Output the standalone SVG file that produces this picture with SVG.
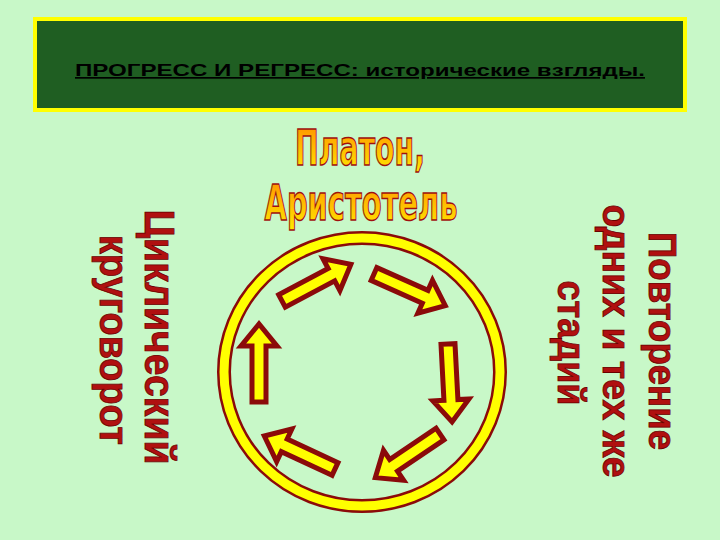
<svg xmlns="http://www.w3.org/2000/svg" width="720" height="540" viewBox="0 0 720 540">
<defs>
<linearGradient id="g" x1="0" y1="0" x2="0" y2="1"><stop offset="0" stop-color="#ff8a00"/><stop offset="1" stop-color="#ffee00"/></linearGradient>
<style>
.ar{fill:#ffff00;stroke:#8b0a0a;stroke-width:5;stroke-linejoin:miter}
.v{font-family:"Liberation Sans",Arial,sans-serif;font-weight:bold;fill:#b01010;stroke:#6a0000;stroke-width:0.8;text-anchor:middle}
.t{font-family:"DejaVu Sans",sans-serif;font-weight:bold;font-size:50px;fill:url(#g);stroke:#a01010;stroke-width:1.5;text-anchor:middle}
</style>
</defs>
<rect width="720" height="540" fill="#c8f8c8"/>
<g id="header">
<rect x="35" y="19" width="650" height="91" fill="#1f5e22" stroke="#ffff00" stroke-width="4"/>
<text x="75" y="76" font-family="Liberation Sans,Arial,sans-serif" font-weight="bold" font-size="17" text-decoration="underline" fill="#000" textLength="570" lengthAdjust="spacingAndGlyphs">ПРОГРЕСС И РЕГРЕСС: исторические взгляды.</text>
</g>
<g id="title">
<text class="t" x="360" y="165" textLength="130" lengthAdjust="spacingAndGlyphs">Платон,</text>
<text class="t" x="361" y="220" textLength="193" lengthAdjust="spacingAndGlyphs">Аристотель</text>
</g>
<g id="left-label">
<text class="v" font-size="42" transform="translate(145,337) rotate(90)" textLength="255" lengthAdjust="spacingAndGlyphs">Циклический</text>
<text class="v" font-size="40" transform="translate(100,340) rotate(90)" textLength="210" lengthAdjust="spacingAndGlyphs">круговорот</text>
</g>
<g id="right-label">
<text class="v" font-size="38" transform="translate(649,341) rotate(90)" textLength="218" lengthAdjust="spacingAndGlyphs">Повторение</text>
<text class="v" font-size="38" transform="translate(603,341) rotate(90)" textLength="273" lengthAdjust="spacingAndGlyphs">одних и тех же</text>
<text class="v" font-size="38" transform="translate(558,343) rotate(90)" textLength="125" lengthAdjust="spacingAndGlyphs">стадий</text>
</g>
<g id="ring">
<ellipse cx="362" cy="372" rx="138" ry="134" fill="none" stroke="#8b0a0a" stroke-width="14"/>
<ellipse cx="362" cy="372" rx="138" ry="134" fill="none" stroke="#ffff00" stroke-width="9"/>
</g>
<g id="connectors">
<path class="ar" transform="translate(282,301) rotate(-28)" d="M0,-7H56V-18L78,0L56,18V7H0Z"/>
<path class="ar" transform="translate(374,274) rotate(24)" d="M0,-7H56V-18L78,0L56,18V7H0Z"/>
<path class="ar" transform="translate(448,344) rotate(87)" d="M0,-7H56V-18L78,0L56,18V7H0Z"/>
<path class="ar" transform="translate(440,434) rotate(146)" d="M0,-7H56V-18L78,0L56,18V7H0Z"/>
<path class="ar" transform="translate(335,469) rotate(205)" d="M0,-7H56V-18L78,0L56,18V7H0Z"/>
<path class="ar" transform="translate(259,402) rotate(-90)" d="M0,-7H56V-18L78,0L56,18V7H0Z"/>
</g>
</svg>
